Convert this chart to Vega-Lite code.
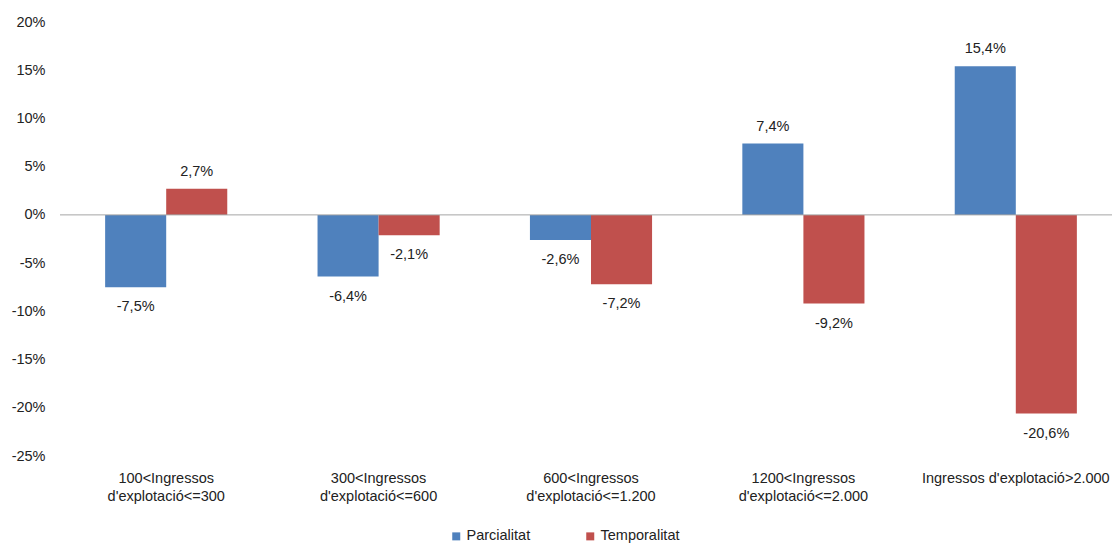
{
  "$schema": "https://vega.github.io/schema/vega-lite/v6.json",
  "width": 1062,
  "height": 434,
  "autosize": {"type": "none"},
  "padding": {"left": 60, "top": 22, "right": 0, "bottom": 87},
  "config": {
    "view": {"stroke": null},
    "font": "Liberation Sans",
    "locale": {"number": {"decimal": ",", "thousands": ".", "grouping": [3], "currency": ["", " €"], "minus": "-"}}
  },
  "data": {
    "values": [
      {"grup": "100<Ingressos d'explotació<=300", "serie": "Parcialitat", "valor": -0.075},
      {"grup": "100<Ingressos d'explotació<=300", "serie": "Temporalitat", "valor": 0.027},
      {"grup": "300<Ingressos d'explotació<=600", "serie": "Parcialitat", "valor": -0.064},
      {"grup": "300<Ingressos d'explotació<=600", "serie": "Temporalitat", "valor": -0.021},
      {"grup": "600<Ingressos d'explotació<=1.200", "serie": "Parcialitat", "valor": -0.026},
      {"grup": "600<Ingressos d'explotació<=1.200", "serie": "Temporalitat", "valor": -0.072},
      {"grup": "1200<Ingressos d'explotació<=2.000", "serie": "Parcialitat", "valor": 0.074},
      {"grup": "1200<Ingressos d'explotació<=2.000", "serie": "Temporalitat", "valor": -0.092},
      {"grup": "Ingressos d'explotació>2.000", "serie": "Parcialitat", "valor": 0.154},
      {"grup": "Ingressos d'explotació>2.000", "serie": "Temporalitat", "valor": -0.206}
    ]
  },
  "layer": [
    {
      "mark": {"type": "bar"},
      "encoding": {
        "x": {
          "field": "grup", "type": "nominal", "sort": null,
          "scale": {"paddingInner": 0.425, "paddingOuter": 0.2125},
          "axis": {
            "title": null, "domain": false, "ticks": false, "labelAngle": 0,
            "labelFontSize": 14.5, "labelColor": "#222222", "labelPadding": 15,
            "labelLineHeight": 18, "labelBaseline": "top", "labelLimit": 0,
            "labelExpr": "test(/^[0-9]/, datum.label) ? [substring(datum.label, 0, indexof(datum.label, ' ')), substring(datum.label, indexof(datum.label, ' ') + 1)] : datum.label"
          }
        },
        "xOffset": {"field": "serie", "type": "nominal", "scale": {"paddingInner": 0}},
        "y": {
          "field": "valor", "type": "quantitative",
          "scale": {"domain": [-0.25, 0.2], "nice": false},
          "axis": {
            "title": null, "grid": false, "domain": false, "ticks": false,
            "values": [-0.25, -0.2, -0.15, -0.1, -0.05, 0, 0.05, 0.1, 0.15, 0.2],
            "format": ".0%", "labelFontSize": 14.5, "labelColor": "#222222", "labelPadding": 15
          }
        },
        "color": {
          "field": "serie", "type": "nominal",
          "scale": {"domain": ["Parcialitat", "Temporalitat"], "range": ["#4F81BD", "#C0504D"]},
          "legend": {
            "title": null, "orient": "none", "direction": "horizontal",
            "legendX": 389, "legendY": 507,
            "symbolType": "square", "symbolSize": 64, "symbolStrokeWidth": 0,
            "labelFontSize": 14.5, "labelColor": "#222222", "labelOffset": 3, "columnPadding": 52
          }
        }
      }
    },
    {
      "transform": [{"filter": "datum.valor >= 0"}],
      "mark": {"type": "text", "baseline": "middle", "dy": -17, "fontSize": 14.5, "color": "#222222"},
      "encoding": {
        "x": {"field": "grup", "type": "nominal", "sort": null},
        "xOffset": {"field": "serie", "type": "nominal"},
        "y": {"field": "valor", "type": "quantitative"},
        "text": {"field": "valor", "type": "quantitative", "format": ".1%"}
      }
    },
    {
      "transform": [{"filter": "datum.valor < 0"}],
      "mark": {"type": "text", "baseline": "middle", "dy": 20, "fontSize": 14.5, "color": "#222222"},
      "encoding": {
        "x": {"field": "grup", "type": "nominal", "sort": null},
        "xOffset": {"field": "serie", "type": "nominal"},
        "y": {"field": "valor", "type": "quantitative"},
        "text": {"field": "valor", "type": "quantitative", "format": ".1%"}
      }
    },
    {
      "data": {"values": [{}]},
      "mark": {"type": "rule", "color": "#a6a6a6", "strokeWidth": 1},
      "encoding": {"y": {"datum": 0}}
    }
  ]
}
